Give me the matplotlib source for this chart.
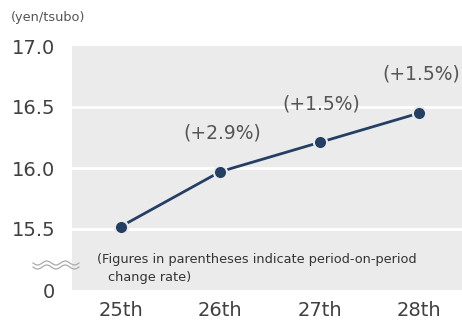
import numpy as np
import matplotlib.pyplot as plt

periods = ['25th', '26th', '27th', '28th']
rent = [15.52, 15.97, 16.21, 16.45]
change = ['', '(+2.9%)', '(+1.5%)', '(+1.5%)']
yticks = [15.0, 15.5, 16.0, 16.5, 17.0]
ytick_labels = ['0', '15.5', '16.0', '16.5', '17.0']

navy = '#243f63'
txt = '#404040'

fig = plt.figure(figsize=(4.62, 3.22), dpi=100)
ax = fig.add_axes([72 / 462, 32 / 322, 390 / 462, 244 / 322])
ax.set_facecolor('#ebebeb')

x = np.arange(len(periods))
ax.plot(x, rent, color=navy, lw=2, marker='o', ms=9.5,
        mfc=navy, mec='#ebebeb', mew=1.5, zorder=3)

for xi, yi, s in zip(x, rent, change):
    if s:
        ax.text(xi + 0.02, yi + 0.24, s, ha='center', va='bottom',
                fontsize=13.5, color='#555555')

ax.set_xlim(-0.49, 3.43)
ax.set_ylim(15.0, 17.0)
ax.set_xticks(x)
ax.set_xticklabels(periods)
ax.set_yticks(yticks)
ax.set_yticklabels(ytick_labels)
for yv in yticks[1:-1]:
    ax.axhline(yv, color='white', lw=2, zorder=1)

ax.tick_params(length=0, labelsize=14, labelcolor=txt)
ax.tick_params(axis='x', pad=8)
ax.tick_params(axis='y', pad=12)
for sp in ax.spines.values():
    sp.set_visible(False)

# axis break squiggle between 0 and 15.5
t = np.linspace(0, 1, 60)
for dy in (0, 4):
    xs = (33 + 46 * t) / 462
    ys = 1 - (263 + dy + 2 * np.sin(t * 2 * np.pi * 2.5)) / 322
    fig.add_artist(plt.Line2D(xs, ys, color='#aaaaaa', lw=0.9))

ax.text(97 / 462, 1 - 259 / 322, '(Figures in parentheses indicate period-on-period',
        transform=fig.transFigure, fontsize=9.3, color='#333333', va='center')
ax.text(108 / 462, 1 - 278 / 322, 'change rate)',
        transform=fig.transFigure, fontsize=9.3, color='#333333', va='center')

fig.text(11 / 462, 1 - 17 / 322, '(yen/tsubo)', fontsize=9.3, color='#555555', va='center')

fig.savefig('out.png', dpi=100)
